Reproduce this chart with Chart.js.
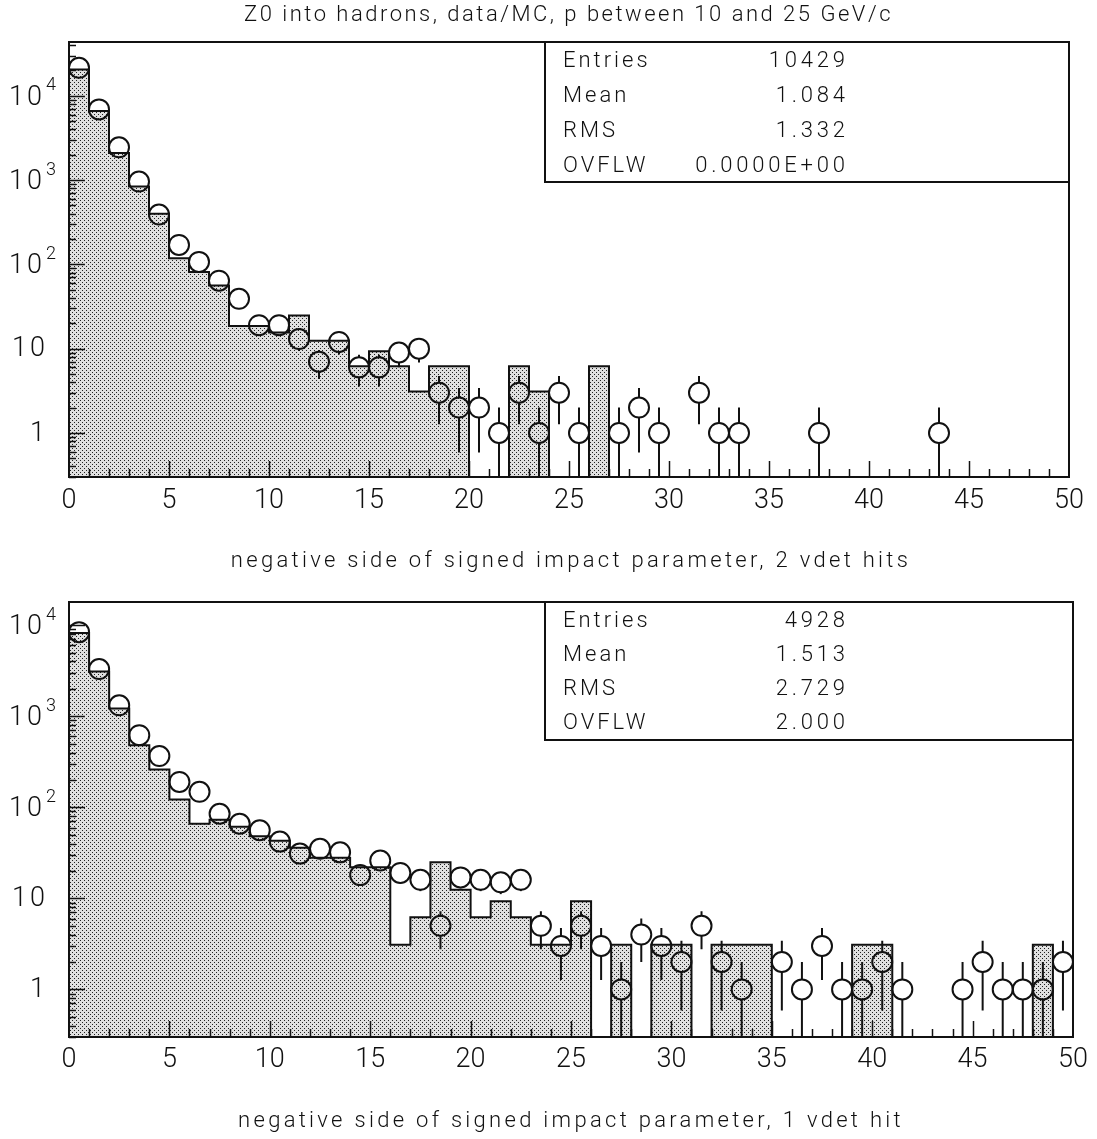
<!DOCTYPE html>
<html>
<head>
<meta charset="utf-8">
<script src="https://cdn.jsdelivr.net/npm/chart.js@4.4.1/dist/chart.umd.min.js"></script>
<style>
  html, body { margin: 0; padding: 0; background: #fff; }
  body { width: 1097px; height: 1139px; position: relative; overflow: hidden; }
  .caption {
    position: absolute; text-align: center; color: #111;
    font: 300 22px Roboto, sans-serif; white-space: nowrap;
  }
  #title { left: 40px; width: 1057px; top: 1px; letter-spacing: 2.5px; }
  #xt2 { left: 71px; width: 1000px; top: 547px; letter-spacing: 3.3px; }
  #xt1 { left: 71px; width: 1000px; top: 1107px; letter-spacing: 3.3px; }
  canvas { position: absolute; left: 0; }
  #h2hits { top: 0; }
  #h1hit { top: 580px; }
</style>
</head>
<body>
<canvas id="h2hits" width="1097" height="580"></canvas>
<canvas id="h1hit" width="1097" height="559"></canvas>
<div class="caption" id="title">Z0 into hadrons, data/MC, p between 10 and 25 GeV/c</div>
<div class="caption" id="xt2">negative side of signed impact parameter, 2 vdet hits</div>
<div class="caption" id="xt1">negative side of signed impact parameter, 1 vdet hit</div>
<script>
// impact parameter bins: 0..50, one unit wide
const X_MIN = 0
const X_MAX = 50

// 2 vdet hits: Monte Carlo (shaded) and data (circles), per bin
const mc2Hits = [
  20500, 6600, 2100, 840, 400, 118, 81, 56, 18.6, 18.6,
  15.5, 24.8, 12.4, 12.4, 6.2, 9.3, 6.2, 3.1, 6.2, 6.2,
  0, 0, 6.2, 3.1, 0, 0, 6.2, 0, 0, 0,
  0, 0, 0, 0, 0, 0, 0, 0, 0, 0,
  0, 0, 0, 0, 0, 0, 0, 0, 0, 0,
]
const data2Hits = [
  21500, 6900, 2450, 960, 390, 170, 107, 64, 39, 19,
  19, 13, 7, 12, 6, 6, 9, 10, 3, 2,
  2, 1, 3, 1, 3, 1, 0, 1, 2, 1,
  0, 3, 1, 1, 0, 0, 0, 1, 0, 0,
  0, 0, 0, 1, 0, 0, 0, 0, 0, 0,
]

// 1 vdet hit
const mc1Hit = [
  8200, 3100, 1220, 480, 260, 122, 66, 73, 61, 48,
  43, 36, 28, 28, 22, 22, 3.1, 6.2, 25, 12.4,
  6.2, 9.3, 6.2, 3.1, 3.1, 9.3, 0, 3.1, 0, 3.1,
  3.1, 0, 3.1, 3.1, 3.1, 0, 0, 0, 0, 3.1,
  3.1, 0, 0, 0, 0, 0, 0, 0, 3.1, 0,
]
const data1Hit = [
  8400, 3300, 1320, 620, 366, 190, 148, 85, 66, 56,
  42, 31, 35, 32, 18, 26, 19, 16, 5, 17,
  16, 15, 16, 5, 3, 5, 3, 1, 4, 3,
  2, 5, 2, 1, 0, 2, 1, 3, 1, 1,
  2, 1, 0, 0, 1, 2, 1, 1, 1, 2,
]

const stats2Hits = [['Entries', '10429'], ['Mean', '1.084'], ['RMS', '1.332'], ['OVFLW', '0.0000E+00']]
const stats1Hit = [['Entries', '4928'], ['Mean', '1.513'], ['RMS', '2.729'], ['OVFLW', '2.000']]

const yDecades = [0, 1, 2, 3, 4]

const FAMILY = 'Roboto, sans-serif'
const INK = '#111'
const FLOOR = 1e-3   // empty bins fall below the log axis and get clipped

function stipple() {
  const c = document.createElement('canvas')
  c.width = 4; c.height = 4
  const g = c.getContext('2d')
  g.fillStyle = '#e0e0e0'
  g.fillRect(0, 0, 4, 4)
  g.fillStyle = '#222'
  g.fillRect(0, 0, 1, 1)
  g.fillRect(2, 2, 1, 1)
  return g.createPattern(c, 'repeat')
}

// text with letter spacing (the spacing trails the last glyph)
function spacedText(ctx, text, x, y, align, spacing) {
  ctx.letterSpacing = spacing + 'px'
  ctx.textAlign = align
  ctx.fillText(text, align === 'right' ? x + spacing : x, y)
  ctx.letterSpacing = '0px'
}

// frame, inward ticks, decade labels, error bars and the stats box
const hbookFrame = {
  id: 'hbook',
  afterDatasetsDraw(chart) {
    const { ctx, chartArea: a, scales: { y } } = chart
    const meta = chart.getDatasetMeta(0)
    const pts = chart.data.datasets[0].data
    const r = chart.data.datasets[0].pointRadius
    ctx.save()
    ctx.beginPath()
    ctx.rect(a.left, a.top, a.right - a.left, a.bottom - a.top)
    ctx.clip()
    ctx.strokeStyle = INK
    ctx.lineWidth = 2
    meta.data.forEach((el, i) => {
      const n = pts[i].y
      const e = Math.sqrt(n)
      const yc = el.y
      const yHi = y.getPixelForValue(n + e)
      const yLo = n - e > 0 ? y.getPixelForValue(n - e) : a.bottom
      ctx.beginPath()
      if (yc - r > yHi) { ctx.moveTo(el.x, yHi); ctx.lineTo(el.x, yc - r) }
      if (yLo > yc + r) { ctx.moveTo(el.x, yc + r); ctx.lineTo(el.x, yLo) }
      ctx.stroke()
    })
    ctx.restore()
  },
  afterDraw(chart, args, opts) {
    const { ctx, chartArea: a, scales: { x, y } } = chart
    ctx.save()
    ctx.strokeStyle = INK
    ctx.fillStyle = INK

    // y ticks on the left border, pointing in
    ctx.lineWidth = 1.5
    for (let k = -1; k <= 5; k++) {
      for (let m = 1; m <= 9; m++) {
        const v = m * Math.pow(10, k)
        if (v < y.min || v > y.max) continue
        const py = Math.round(y.getPixelForValue(v)) + 0.5
        const len = m === 1 ? 16 : 7
        ctx.beginPath()
        ctx.moveTo(a.left, py)
        ctx.lineTo(a.left + len, py)
        ctx.stroke()
      }
    }
    // x ticks on the bottom border, pointing up
    for (let t = X_MIN + 1; t < X_MAX; t++) {
      const px = Math.round(x.getPixelForValue(t)) + 0.5
      const len = t % 5 === 0 ? 16 : 8
      ctx.beginPath()
      ctx.moveTo(px, a.bottom)
      ctx.lineTo(px, a.bottom - len)
      ctx.stroke()
    }

    ctx.lineWidth = 2
    ctx.strokeRect(a.left, a.top, a.right - a.left, a.bottom - a.top)

    // decade labels: 1, 10, 10^2 ...
    ctx.textBaseline = 'middle'
    yDecades.forEach(k => {
      const py = y.getPixelForValue(Math.pow(10, k))
      ctx.font = `300 27px ${FAMILY}`
      if (k === 0) spacedText(ctx, '1', 45, py + 1, 'right', 3)
      else if (k === 1) spacedText(ctx, '10', 45, py + 1, 'right', 3)
      else {
        spacedText(ctx, '10', 42, py + 2, 'right', 3)
        ctx.font = `300 18px ${FAMILY}`
        spacedText(ctx, String(k), 46, py - 10, 'left', 0)
      }
    })

    // statistics box in the top right corner
    const box = { left: 545, top: a.top, right: a.right, bottom: a.top + opts.boxHeight }
    ctx.strokeRect(box.left, box.top, box.right - box.left, box.bottom - box.top)
    ctx.font = `300 22px ${FAMILY}`
    opts.stats.forEach(([label, value], i) => {
      const py = box.top + opts.rowTop + i * opts.rowStep
      spacedText(ctx, label, box.left + 18, py, 'left', 3)
      spacedText(ctx, value, box.left + 300, py, 'right', 3.8)
    })
    ctx.restore()
  },
}

function makeHisto(id, mc, data, cfg) {
  const steps = mc.map((v, i) => ({ x: X_MIN + i, y: v > 0 ? v : FLOOR }))
  steps.push({ x: X_MAX, y: FLOOR })
  const points = []
  data.forEach((v, i) => { if (v > 0) points.push({ x: X_MIN + i + 0.5, y: v }) })

  const canvas = document.getElementById(id)
  return new Chart(canvas.getContext('2d'), {
    type: 'scatter',
    data: {
      datasets: [
        {
          type: 'scatter',
          data: points,
          order: 0,
          pointRadius: 10,
          pointBorderWidth: 2,
          borderColor: INK,
          backgroundColor: 'rgba(0,0,0,0)',
          pointBackgroundColor: 'rgba(0,0,0,0)',
        },
        {
          type: 'line',
          data: steps,
          order: 1,
          stepped: 'before',
          fill: 'start',
          backgroundColor: stipple(),
          borderColor: INK,
          borderWidth: 2,
          pointRadius: 0,
          tension: 0,
        },
      ],
    },
    options: {
      responsive: false,
      animation: false,
      events: [],
      layout: { padding: { left: 0, right: cfg.right, top: cfg.top, bottom: 0 } },
      plugins: {
        legend: { display: false },
        tooltip: { enabled: false },
        hbook: cfg.stats,
      },
      scales: {
        x: {
          type: 'linear',
          min: X_MIN,
          max: X_MAX,
          grid: { display: false, drawTicks: false },
          border: { display: false },
          ticks: {
            stepSize: 5,
            color: INK,
            padding: cfg.tickPad,
            maxRotation: 0,
            font: { family: FAMILY, size: 27, weight: '300' },
          },
          afterFit: s => { s.height = cfg.xHeight },
        },
        y: {
          type: 'logarithmic',
          min: 0.3,
          max: cfg.yMax,
          grid: { display: false, drawTicks: false },
          border: { display: false },
          ticks: { display: false },
          afterFit: s => { s.width = 69 },
        },
      },
    },
    plugins: [hbookFrame],
  })
}

makeHisto('h2hits', mc2Hits, data2Hits, {
  top: 42, right: 28, xHeight: 103, tickPad: 8, yMax: 43500,
  stats: { stats: stats2Hits, boxHeight: 140, rowTop: 19, rowStep: 35 },
})
makeHisto('h1hit', mc1Hit, data1Hit, {
  top: 22, right: 24, xHeight: 102, tickPad: 7, yMax: 18000,
  stats: { stats: stats1Hit, boxHeight: 138, rowTop: 19, rowStep: 34 },
})
</script>
</body>
</html>
